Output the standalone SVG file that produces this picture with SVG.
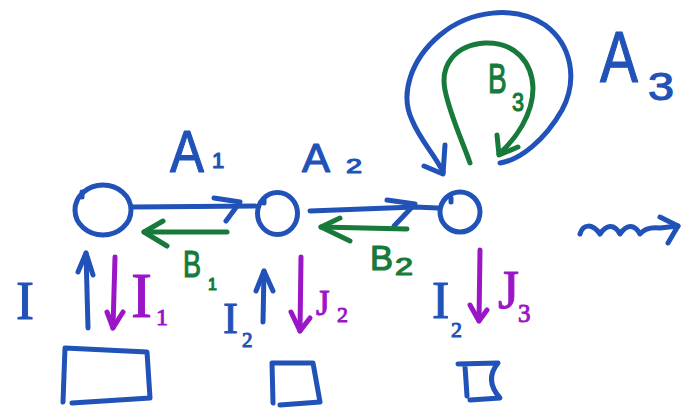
<svg xmlns="http://www.w3.org/2000/svg" width="683" height="409" viewBox="0 0 683 409">
<style>
.s{fill:none;stroke-width:5;stroke-linecap:round;stroke-linejoin:round}
.b{stroke:#2152b8}
.g{stroke:#177a3a}
.p{stroke:#9b16c6}
.t{font-family:"Liberation Sans",Arial,sans-serif;stroke-width:1.2;stroke-linejoin:round}
.ts{font-family:"Liberation Serif","Times New Roman",serif;stroke-width:1;stroke-linejoin:round}
.tb{fill:#2152b8;stroke:#2152b8}
.tg{fill:#177a3a;stroke:#177a3a}
.tp{fill:#9b16c6;stroke:#9b16c6}
</style>
<rect width="683" height="409" fill="#ffffff"/>

<g id="node1">
  <ellipse class="s b" cx="103" cy="210" rx="28" ry="25"/>
  <path class="s b" d="M82 197 L82 192"/>
</g>
<g id="node2">
  <ellipse class="s b" cx="277.5" cy="213.5" rx="20" ry="21"/>
  <path class="s b" d="M264 203 L264 199"/>
</g>
<g id="node3">
  <ellipse class="s b" cx="460" cy="212" rx="20" ry="20"/>
  <path class="s b" d="M451 202 L451 198"/>
</g>

<g id="box1">
  <path class="s b" d="M63 402 L65 348 L147 352 L150 398 L72 403"/>
</g>
<g id="box2">
  <path class="s b" d="M273 403 L272 363 L313 363 L320 402 L280 405"/>
</g>
<g id="box3">
  <path class="s b" d="M458 364 L498 363 Q484 380 500 398 L470 400 M465 366 L467 396"/>
</g>

<g id="connectors">
  <!-- A1 -->
  <path class="s b" d="M133 207 L255 206"/>
  <path class="s b" d="M214 198 L240 202 L226 221"/>
  <!-- B1 -->
  <path class="s g" d="M227 232 L144 232"/>
  <path class="s g" d="M163 221 L144 232 L167 246"/>
  <!-- A2 -->
  <path class="s b" d="M310 211 L415 207 L438 208"/>
  <path class="s b" d="M387 200 L415 204 L394 226"/>
  <!-- B2 -->
  <path class="s g" d="M407 229 L321 227"/>
  <path class="s g" d="M340 218 L321 227 L350 241"/>
  <!-- A3 self loop -->
  <path class="s b" d="M500 163 C520 160 545 140 562 110 C578 80 572 45 545 25 C515 5 470 10 440 35 C410 60 400 95 412 120 C420 140 435 155 443 172"/>
  <path class="s b" d="M424 166 L443 174 L445 145"/>
  <!-- B3 self loop -->
  <path class="s g" d="M470 163 C462 140 450 115 445 90 C440 65 455 45 485 43 C515 42 532 62 533 88 C533 115 515 140 499 154"/>
  <path class="s g" d="M497 135 L499 155 L518 147"/>
  <!-- squiggle -->
  <path class="s b" d="M580 234 C583 224 592 223 600 234 C606 225 614 223 620 234 C626 225 634 223 640 234 C645 228 652 227 660 228 L678 226"/>
  <path class="s b" d="M660 217 L678 226 L668 243"/>
  <!-- I up arrow -->
  <path class="s b" d="M88 328 L86 253"/>
  <path class="s b" d="M78 272 L86 253 L93 275"/>
  <!-- I1 down arrow -->
  <path class="s p" d="M115 257 L113 328"/>
  <path class="s p" d="M107 312 L113 328 L123 312"/>
  <!-- I2 up arrow -->
  <path class="s b" d="M263 322 L264 271"/>
  <path class="s b" d="M256 291 L264 271 L273 291"/>
  <!-- J2 down arrow -->
  <path class="s p" d="M301 257 L300 331"/>
  <path class="s p" d="M291 312 L300 331 L310 318"/>
  <!-- J3 down arrow -->
  <path class="s p" d="M480 250 L479 321"/>
  <path class="s p" d="M470 305 L479 321 L487 310"/>
</g>

<g id="labels">
  <text class="t tb" x="170" y="172" font-size="60" textLength="34" lengthAdjust="spacingAndGlyphs">A</text>
  <text class="t tb" x="212" y="168" font-size="22">1</text>
  <text class="t tb" x="302" y="172" font-size="40" textLength="28" lengthAdjust="spacingAndGlyphs">A</text>
  <text class="t tb" x="346" y="173" font-size="21" textLength="16" lengthAdjust="spacingAndGlyphs">2</text>
  <text class="t tb" x="600" y="82" font-size="72" textLength="38" lengthAdjust="spacingAndGlyphs">A</text>
  <text class="t tb" x="648" y="100" font-size="38" textLength="26" lengthAdjust="spacingAndGlyphs">3</text>

  <text class="t tg" x="183" y="277" font-size="37" textLength="18" lengthAdjust="spacingAndGlyphs">B</text>
  <text class="t tg" x="208" y="290" font-size="16">1</text>
  <text class="t tg" x="370" y="270" font-size="35" textLength="23" lengthAdjust="spacingAndGlyphs">B</text>
  <text class="t tg" x="395" y="275" font-size="24" textLength="18" lengthAdjust="spacingAndGlyphs">2</text>
  <text class="t tg" transform="translate(488 93) scale(0.65 1)" x="0" y="0" font-size="43">B</text>
  <text class="t tg" x="512" y="111" font-size="25" textLength="12" lengthAdjust="spacingAndGlyphs">3</text>

  <text class="ts tb" x="16" y="319" font-size="54">I</text>
  <text class="ts tp" x="131" y="317" font-size="63">I</text>
  <text class="ts tp" x="156" y="325" font-size="24">1</text>
  <text class="ts tb" x="223" y="333" font-size="45">I</text>
  <text class="ts tb" x="242" y="347" font-size="21">2</text>
  <text class="ts tp" x="316" y="315" font-size="35">J</text>
  <text class="ts tp" x="337" y="322" font-size="22">2</text>
  <text class="ts tb" x="432" y="318" font-size="52">I</text>
  <text class="ts tb" x="451" y="337" font-size="22">2</text>
  <text class="ts tp" x="498" y="308" font-size="54">J</text>
  <text class="ts tp" x="518" y="322" font-size="25">3</text>
</g>
</svg>
